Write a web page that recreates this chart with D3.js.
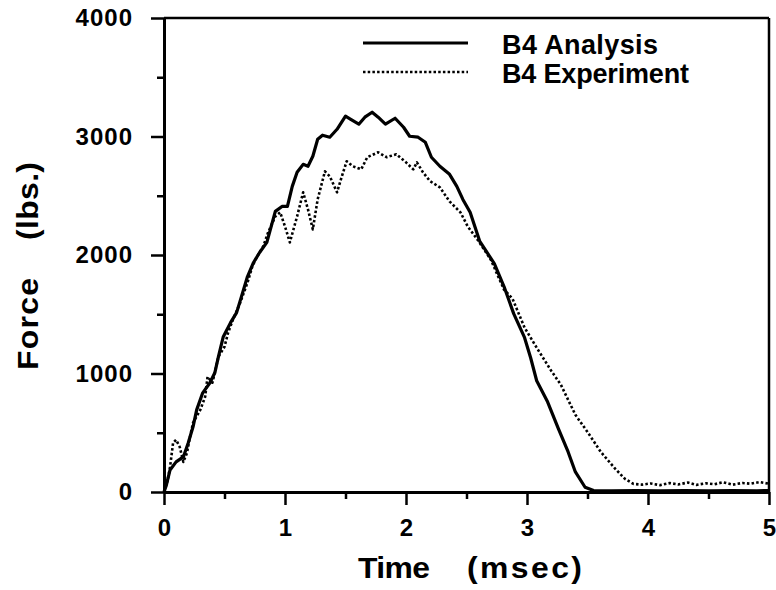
<!DOCTYPE html>
<html>
<head>
<meta charset="utf-8">
<script src="https://cdn.jsdelivr.net/npm/d3@7"></script>
<style>
  html, body { margin: 0; padding: 0; background: #fff; }
  svg { display: block; }
  text { font-family: "Liberation Sans", Arial, Helvetica, sans-serif; font-weight: bold; fill: #000; }
</style>
</head>
<body>
<svg id="chart" width="776" height="590"></svg>
<script>
// ---- data ----
const xMajorTicks = [0, 1, 2, 3, 4, 5];
const xMinorTicks = [0.5, 1.5, 2.5, 3.5, 4.5];
const yMajorTicks = [0, 1000, 2000, 3000, 4000];
const yMinorTicks = [500, 1500, 2500, 3500];
const seriesNames = ["B4 Analysis", "B4 Experiment"];
const xTitleParts = ["Time", "(msec)"];
const yTitleParts = ["Force", "(lbs.)"];

const analysisT = [0.0, 0.02, 0.05, 0.1, 0.16, 0.2, 0.24, 0.27, 0.32, 0.38, 0.42, 0.45, 0.49, 0.55, 0.6, 0.64, 0.69, 0.74, 0.79, 0.85,
  0.92, 0.975, 1.02, 1.06, 1.1, 1.15, 1.19, 1.23, 1.27, 1.31, 1.37, 1.43, 1.5, 1.54, 1.61, 1.66, 1.72, 1.77, 1.83, 1.91, 1.98,
  2.03, 2.1, 2.16, 2.21, 2.28, 2.36, 2.42, 2.47, 2.53, 2.61, 2.73, 2.81, 2.89, 2.98, 3.03, 3.08, 3.17, 3.26, 3.34, 3.4, 3.48,
  3.55, 3.7, 3.9, 4.1, 4.3, 4.5, 4.7, 4.9, 5.0];
const analysisF = [0, 60, 186, 254, 296, 414, 550, 693, 837, 922, 1006, 1142, 1311, 1429, 1514, 1649, 1818, 1937, 2021, 2106,
  2368, 2410, 2410, 2579, 2698, 2765, 2749, 2833, 2977, 3011, 2994, 3061, 3171, 3146, 3104, 3163, 3205, 3163, 3104, 3154, 3078,
  3002, 2994, 2951, 2825, 2749, 2681, 2579, 2469, 2360, 2114, 1928, 1734, 1505, 1302, 1133, 939, 761, 533, 338, 169, 40,
  12, 10, 12, 10, 12, 10, 12, 10, 12];

const experimentT = [0.0, 0.03, 0.05, 0.075, 0.1, 0.13, 0.16, 0.19, 0.21, 0.24, 0.3, 0.34, 0.36, 0.4, 0.45, 0.5, 0.53, 0.57, 0.63,
  0.69, 0.73, 0.77, 0.82, 0.86, 0.92, 0.96, 1.0, 1.04, 1.1, 1.15, 1.19, 1.23, 1.27, 1.33, 1.37, 1.43, 1.47, 1.51, 1.56, 1.63,
  1.68, 1.77, 1.84, 1.92, 2.0, 2.06, 2.09, 2.14, 2.2, 2.28, 2.36, 2.45, 2.51, 2.59, 2.7, 2.81, 2.88, 2.98, 3.08, 3.2, 3.28,
  3.4, 3.5, 3.61, 3.73, 3.81, 3.88, 3.95, 4.02, 4.1, 4.18, 4.25, 4.33, 4.4, 4.48, 4.55, 4.62, 4.7, 4.78, 4.85, 4.92, 5.0];
const experimentF = [0, 100, 211, 414, 440, 380, 254, 330, 440, 584, 693, 803, 973, 922, 1142, 1226, 1345, 1455, 1598,
  1767, 1903, 1987, 2072, 2190, 2326, 2360, 2241, 2106, 2326, 2529, 2385, 2216, 2470, 2706, 2664, 2529, 2664, 2791, 2749, 2723,
  2825, 2867, 2825, 2850, 2782, 2723, 2782, 2698, 2622, 2571, 2452, 2360, 2241, 2131, 1962, 1708, 1632, 1387, 1218, 1023, 905,
  651, 507, 338, 195, 110, 68, 62, 72, 58, 75, 64, 80, 60, 74, 66, 82, 62, 76, 70, 84, 70];

// ---- layout ----
const svg = d3.select("#chart");
const x = d3.scaleLinear().domain([0, 5]).range([164, 769]);
const y = d3.scaleLinear().domain([0, 4000]).range([492, 18]);

// frame top and right
svg.append("line").attr("x1", x(0)).attr("x2", x(5)).attr("y1", y(4000)).attr("y2", y(4000))
  .attr("stroke", "#000").attr("stroke-width", 2.5);
svg.append("line").attr("x1", x(5)).attr("x2", x(5)).attr("y1", y(4000)).attr("y2", y(0))
  .attr("stroke", "#000").attr("stroke-width", 2.5);

function styleAxis(g) {
  g.select(".domain").attr("stroke", "#000").attr("stroke-width", 3);
  g.selectAll(".tick line").attr("stroke", "#000").attr("stroke-width", 2.5);
  g.selectAll("text").attr("font-size", 24).attr("fill", "#000")
    .style("font-family", '"Liberation Sans", Arial, sans-serif').style("font-weight", "bold");
}

// minor ticks
svg.append("g").attr("transform", `translate(0,${y(0)})`)
  .call(d3.axisBottom(x).tickValues(xMinorTicks).tickSize(7).tickFormat("").tickSizeOuter(0))
  .call(styleAxis);
svg.append("g").attr("transform", `translate(${x(0)},0)`)
  .call(d3.axisLeft(y).tickValues(yMinorTicks).tickSize(7).tickFormat("").tickSizeOuter(0))
  .call(styleAxis);
// major ticks
svg.append("g").attr("transform", `translate(0,${y(0)})`)
  .call(d3.axisBottom(x).tickValues(xMajorTicks).tickSize(13).tickPadding(14).tickFormat(d3.format("d")).tickSizeOuter(0))
  .call(styleAxis);
svg.append("g").attr("transform", `translate(${x(0)},0)`)
  .call(d3.axisLeft(y).tickValues(yMajorTicks).tickSize(13).tickPadding(18).tickFormat(d3.format("d")).tickSizeOuter(0))
  .call(styleAxis)
  .selectAll("text").attr("letter-spacing", 1);

// lines
const line = d3.line().x(d => x(d[0])).y(d => y(d[1]));
const analysis = analysisT.map((t, i) => [t, analysisF[i]]);
const experiment = experimentT.map((t, i) => [t, experimentF[i]]);

svg.append("path").datum(experiment).attr("d", line)
  .attr("fill", "none").attr("stroke", "#000").attr("stroke-width", 2.6)
  .attr("stroke-dasharray", "2.5,2.2").attr("stroke-linejoin", "round");
svg.append("path").datum(analysis).attr("d", line)
  .attr("fill", "none").attr("stroke", "#000").attr("stroke-width", 3.2)
  .attr("stroke-linejoin", "round");

// legend
const legend = svg.append("g");
legend.append("line").attr("x1", 363).attr("x2", 468).attr("y1", 43).attr("y2", 43)
  .attr("stroke", "#000").attr("stroke-width", 3.2);
legend.append("line").attr("x1", 363).attr("x2", 468).attr("y1", 72).attr("y2", 72)
  .attr("stroke", "#000").attr("stroke-width", 2.6).attr("stroke-dasharray", "2.5,2.2");
legend.append("text").attr("x", 502).attr("y", 54).attr("font-size", 27)
  .attr("textLength", 156).attr("lengthAdjust", "spacing").text(seriesNames[0]);
legend.append("text").attr("x", 502).attr("y", 83).attr("font-size", 27)
  .attr("textLength", 187).attr("lengthAdjust", "spacing").text(seriesNames[1]);

// axis titles (glyphs slightly widened, like the original lettering)
const sx = 1.1;
svg.append("text").attr("transform", `translate(358,578) scale(${sx},1)`).attr("font-size", 29)
  .attr("textLength", 72 / sx).attr("lengthAdjust", "spacing").text(xTitleParts[0]);
svg.append("text").attr("transform", `translate(467,578) scale(${sx},1)`).attr("font-size", 29)
  .attr("textLength", 115 / sx).attr("lengthAdjust", "spacing").text(xTitleParts[1]);
svg.append("text").attr("transform", `translate(38,370) rotate(-90) scale(${sx},1)`).attr("font-size", 29)
  .attr("textLength", 92 / sx).attr("lengthAdjust", "spacing").text(yTitleParts[0]);
svg.append("text").attr("transform", `translate(38,240) rotate(-90) scale(${sx},1)`).attr("font-size", 29)
  .attr("textLength", 78 / sx).attr("lengthAdjust", "spacing").text(yTitleParts[1]);
</script>
</body>
</html>
